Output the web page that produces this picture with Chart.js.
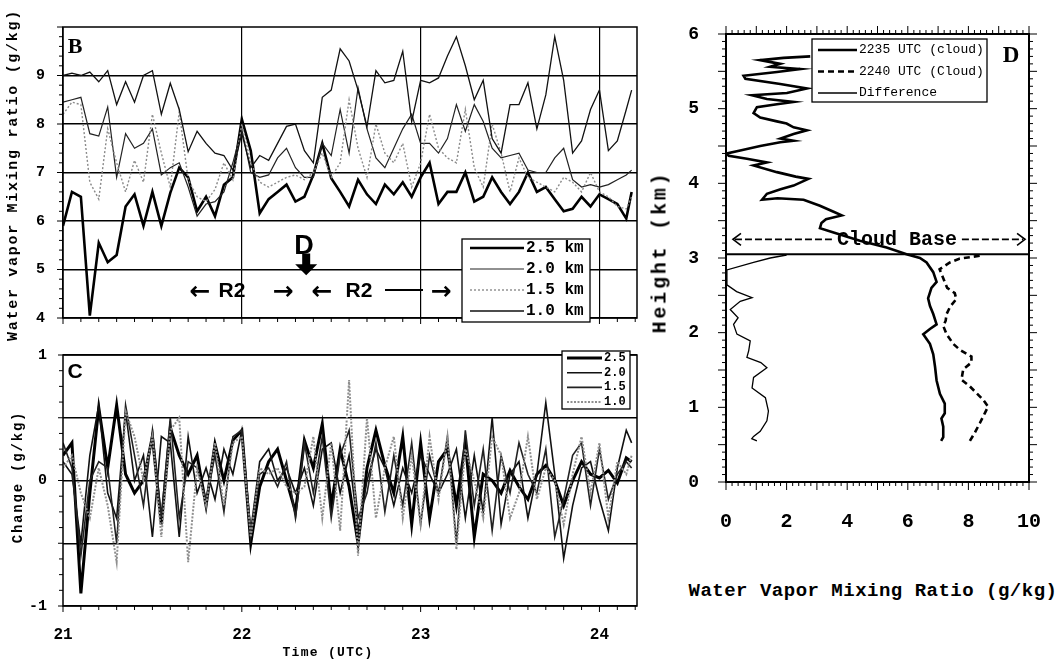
<!DOCTYPE html>
<html>
<head>
<meta charset="utf-8">
<script src="https://cdn.jsdelivr.net/npm/chart.js@4.4.1/dist/chart.umd.min.js"></script>
<style>
  body { margin: 0; background: #fff; }
  #page { position: relative; width: 1062px; height: 660px; overflow: hidden; background: #fff; }
  canvas { position: absolute; }
  .lbl { position: absolute; transform: translate(-50%, -50%); white-space: nowrap; font-family: 'Liberation Mono', monospace; font-weight: bold; color: #000; }
  .rot { transform: translate(-50%, -50%) rotate(-90deg); }
  .sans { font-family: 'Liberation Sans', 'DejaVu Sans', sans-serif; }
  .arw { font-family: 'DejaVu Sans', sans-serif; }
  .serif { font-family: 'Liberation Serif', serif; }
</style>
</head>
<body>
<div id="page">
  <canvas id="chartB" width="660" height="345" style="left:0;top:0"></canvas>
  <canvas id="chartC" width="660" height="330" style="left:0;top:330px"></canvas>
  <canvas id="chartD" width="402" height="540" style="left:660px;top:0"></canvas>

  <div class="lbl rot" style="left:13px;top:175px;font-size:15px;letter-spacing:1.7px">Water vapor Mixing ratio (g/kg)</div>
  <div class="lbl rot" style="left:18px;top:477px;font-size:14px;letter-spacing:1.8px">Change (g/kg)</div>
  <div class="lbl" style="left:328px;top:652px;font-size:13px;letter-spacing:1.3px">Time (UTC)</div>
  <div class="lbl rot" style="left:660px;top:252px;font-size:20px;letter-spacing:2.8px">Height (km)</div>
  <div class="lbl" style="left:873px;top:591px;font-size:19px;letter-spacing:0.5px">Water Vapor Mixing Ratio (g/kg)</div>

  <div class="lbl serif" style="left:75px;top:46px;font-size:22px">B</div>
  <div class="lbl sans" style="left:75px;top:371px;font-size:21px">C</div>
  <div class="lbl serif" style="left:1011px;top:55px;font-size:23px">D</div>

  <div class="lbl sans" style="left:304px;top:245px;font-size:27px">D</div>
  <div class="lbl arw" style="left:200px;top:290px;font-size:25px">←</div>
  <div class="lbl sans" style="left:232px;top:290px;font-size:21px">R2</div>
  <div class="lbl arw" style="left:283px;top:290px;font-size:25px">→</div>
  <div class="lbl arw" style="left:322px;top:290px;font-size:25px">←</div>
  <div class="lbl sans" style="left:359px;top:290px;font-size:21px">R2</div>
  <div style="position:absolute;left:385px;top:289px;width:38px;border-top:2px solid #000"></div>
  <div class="lbl arw" style="left:441px;top:290px;font-size:25px">→</div>
</div>

<script>
// time axis (UTC hours) shared by panels B and C
const times = [21.00, 21.05, 21.10, 21.15, 21.20, 21.25, 21.30, 21.35, 21.40, 21.45,
  21.50, 21.55, 21.60, 21.65, 21.70, 21.75, 21.80, 21.85, 21.90, 21.95,
  22.00, 22.05, 22.10, 22.15, 22.20, 22.25, 22.30, 22.35, 22.40, 22.45,
  22.50, 22.55, 22.60, 22.65, 22.70, 22.75, 22.80, 22.85, 22.90, 22.95,
  23.00, 23.05, 23.10, 23.15, 23.20, 23.25, 23.30, 23.35, 23.40, 23.45,
  23.50, 23.55, 23.60, 23.65, 23.70, 23.75, 23.80, 23.85, 23.90, 23.95,
  24.00, 24.05, 24.10, 24.15, 24.18];

// panel B: water vapor mixing ratio (g/kg)
const b25 = [5.9, 6.6, 6.5, 4.05, 5.55, 5.15, 5.3, 6.3, 6.55, 5.9, 6.6, 5.9, 6.58, 7.1, 6.9, 6.2, 6.5, 6.1, 6.75, 6.9,
  8.1, 7.45, 6.16, 6.45, 6.6, 6.75, 6.4, 6.5, 6.95, 7.6, 6.88, 6.6, 6.3, 6.85, 6.55, 6.35, 6.75, 6.55, 6.8, 6.5,
  6.9, 7.2, 6.35, 6.6, 6.6, 7.0, 6.4, 6.5, 6.9, 6.6, 6.35, 6.6, 7.0, 6.6, 6.7, 6.45, 6.2, 6.25, 6.5, 6.3,
  6.55, 6.45, 6.35, 6.05, 6.6];
const b20 = [8.45, 8.5, 8.55, 7.8, 7.75, 8.35, 6.9, 7.8, 7.5, 7.6, 7.9, 6.95, 7.1, 7.2, 6.7, 6.1, 6.35, 6.4, 6.6, 7.2,
  7.9, 7.0, 6.9, 6.95, 7.3, 7.5, 7.1, 6.9, 6.9, 7.6, 7.35, 8.3, 7.4, 8.75, 7.9, 7.3, 7.1, 7.5, 7.9, 8.2,
  7.6, 7.6, 7.4, 7.7, 8.4, 7.85, 8.4, 8.05, 7.5, 7.3, 7.35, 7.4, 7.05, 7.0, 7.0, 7.3, 7.5, 6.85, 6.7, 6.75,
  6.7, 6.75, 6.85, 6.95, 7.05];
const b15 = [8.2, 8.45, 8.4, 6.8, 6.45, 7.9, 7.2, 6.6, 7.25, 6.8, 8.2, 7.4, 6.7, 8.25, 6.85, 6.5, 6.4, 6.65, 7.2, 6.85,
  8.0, 7.2, 6.8, 6.7, 6.8, 6.9, 6.95, 6.85, 7.0, 7.4, 6.9, 7.2, 8.5, 7.5, 6.9, 8.0, 7.4, 7.2, 7.6, 6.7,
  7.2, 8.2, 7.5, 7.3, 7.2, 8.3, 7.1, 6.7, 8.0, 7.4, 6.6, 7.3, 6.9, 6.8, 6.7, 6.6, 6.9, 6.8, 6.6, 7.0,
  6.6, 6.5, 6.3, 6.25, 6.5];
const b10 = [9.0, 9.05, 9.0, 9.07, 8.87, 9.1, 8.4, 8.87, 8.45, 9.0, 9.1, 8.2, 8.84, 8.3, 7.43, 7.85, 7.6, 7.4, 7.35, 7.05,
  7.8, 7.1, 7.35, 7.25, 7.6, 7.95, 8.0, 7.45, 7.2, 8.55, 8.7, 9.55, 9.3, 8.7, 7.95, 9.1, 8.85, 8.9, 9.5, 8.05,
  8.9, 8.85, 8.95, 9.4, 9.8, 9.2, 8.5, 8.9, 7.7, 7.4, 8.4, 8.4, 8.85, 7.9, 8.6, 9.8, 8.9, 7.4, 7.65, 8.3,
  8.7, 7.45, 7.65, 8.3, 8.7];

// panel C: change (g/kg)
const c25 = [0.2, 0.3, -0.9, -0.1, 0.58, 0.1, 0.6, 0.05, -0.1, 0.0, 0.35, -0.35, 0.42, 0.2, 0.05, 0.2, -0.2, 0.29, 0.0, 0.32,
  0.4, -0.5, -0.05, 0.15, 0.25, 0.0, -0.25, 0.32, 0.1, 0.45, -0.2, 0.25, -0.05, -0.5, 0.1, 0.4, 0.12, -0.1, 0.35, -0.35,
  0.3, -0.3, 0.15, 0.25, -0.2, 0.3, -0.45, 0.05, 0.0, -0.1, 0.08, -0.05, -0.15, 0.05, 0.12, 0.0, -0.2, 0.0, 0.15, 0.05,
  0.02, 0.08, -0.02, 0.18, 0.15];
const c20 = [0.15, 0.05, -0.5, 0.2, 0.6, -0.1, -0.3, 0.55, 0.0, 0.2, -0.45, 0.35, 0.3, -0.45, 0.35, -0.1, 0.1, -0.15, 0.25, 0.05,
  0.4, -0.4, 0.15, 0.25, 0.0, 0.1, -0.1, 0.1, -0.2, 0.25, 0.3, -0.1, 0.2, -0.4, 0.0, 0.25, 0.1, -0.2, 0.1, -0.1,
  0.2, 0.05, -0.1, 0.05, 0.25, -0.3, 0.2, -0.25, 0.5, -0.35, 0.05, 0.15, -0.3, 0.05, 0.62, 0.05, -0.62, -0.2, 0.1, 0.15,
  -0.15, -0.4, 0.1, 0.4, 0.3];
const c15 = [0.3, 0.1, -0.6, 0.0, 0.15, 0.1, -0.5, 0.6, 0.2, -0.2, 0.4, -0.3, 0.5, -0.3, 0.15, 0.1, -0.15, 0.2, -0.25, 0.35,
  0.4, -0.45, 0.05, 0.1, -0.05, 0.15, -0.3, 0.3, -0.1, 0.35, -0.3, 0.2, 0.4, -0.3, -0.1, 0.3, -0.25, 0.2, -0.2, 0.3,
  -0.35, 0.2, -0.1, 0.35, -0.5, 0.4, -0.2, 0.25, -0.4, 0.2, -0.1, 0.3, 0.05, -0.1, 0.25, -0.45, -0.15, 0.2, 0.3, -0.2,
  0.25, -0.15, 0.05, 0.15, 0.1];
const c10 = [0.1, 0.2, -0.1, -0.3, 0.1, -0.2, -0.65, 0.55, 0.35, 0.0, 0.35, -0.45, 0.4, 0.5, -0.65, 0.1, -0.2, 0.3, -0.2, 0.3,
  0.35, -0.45, 0.1, 0.05, 0.1, -0.05, -0.1, -0.05, 0.35, -0.3, 0.3, -0.4, 0.8, -0.6, 0.5, -0.3, 0.1, 0.35, -0.3, 0.2,
  -0.35, 0.35, -0.15, 0.35, -0.55, 0.25, 0.0, -0.3, 0.35, 0.2, -0.3, -0.1, 0.35, -0.15, 0.1, 0.0, -0.35, 0.05, 0.35, -0.1,
  0.3, -0.3, 0.15, 0.05, 0.2];

// panel D: profiles (height km, mixing ratio g/kg)
const d2235H = [0.55, 0.6, 0.74, 0.85, 0.92, 1.05, 1.18, 1.36, 1.54, 1.71, 1.85, 1.98, 2.05, 2.11, 2.25, 2.36, 2.46, 2.6, 2.68, 2.81,
  2.94, 3.0, 3.05, 3.14, 3.23, 3.34, 3.4, 3.47, 3.52, 3.57, 3.62, 3.7, 3.78, 3.8, 3.78, 3.86, 3.92, 3.97, 4.06, 4.09,
  4.15, 4.24, 4.28, 4.33, 4.37, 4.4, 4.44, 4.5, 4.55, 4.57, 4.6, 4.66, 4.71, 4.75, 4.8, 4.83, 4.88, 4.94, 5.02, 5.06,
  5.09, 5.13, 5.18, 5.21, 5.27, 5.33, 5.4, 5.44, 5.49, 5.53, 5.56, 5.6, 5.65, 5.68, 5.7];
const d2235 = [7.1, 7.17, 7.17, 7.11, 7.22, 7.22, 7.06, 6.95, 6.9, 6.84, 6.73, 6.51, 6.73, 6.95, 6.84, 6.73, 6.67, 6.78, 6.95, 6.84,
  6.62, 6.4, 5.96, 5.3, 4.42, 3.55, 3.1, 3.15, 3.3, 3.82, 3.55, 3.1, 2.56, 1.7, 1.19, 1.35, 1.8, 2.23, 2.72, 2.3,
  1.68, 0.91, 1.35, 0.69, 0.09, 0.03, 0.47, 1.13, 1.79, 2.23, 1.8, 2.23, 2.67, 2.23, 2.0, 1.68, 1.13, 0.91, 1.02, 1.68,
  2.23, 1.35, 0.86, 2.01, 2.67, 1.79, 0.64, 0.58, 1.68, 2.45, 1.46, 1.79, 1.13, 1.9, 2.78];
const d2240H = [0.55, 0.66, 0.79, 0.92, 1.01, 1.1, 1.19, 1.28, 1.37, 1.51, 1.6, 1.68, 1.77, 1.85, 1.98, 2.09, 2.16, 2.25, 2.35, 2.45,
  2.53, 2.6, 2.7, 2.85, 2.94, 2.99, 3.03];
const d2240 = [8.05, 8.21, 8.38, 8.54, 8.65, 8.49, 8.27, 8.05, 7.77, 7.83, 8.1, 8.1, 7.72, 7.5, 7.28, 7.17, 7.25, 7.28, 7.4, 7.6,
  7.55, 7.3, 7.2, 7.05, 7.39, 7.7, 8.38];
const dDiffH = [0.55, 0.58, 0.61, 0.68, 0.82, 0.95, 1.13, 1.26, 1.4, 1.53, 1.6, 1.67, 1.76, 1.89, 1.98, 2.11, 2.2, 2.31, 2.42, 2.47,
  2.55, 2.64, 2.84, 2.94, 3.0, 3.04];
const dDiff = [1.02, 0.85, 0.91, 1.13, 1.35, 1.4, 1.3, 0.86, 0.91, 1.35, 1.15, 0.69, 0.75, 0.8, 0.36, 0.25, 0.4, 0.14, 0.47, 0.86,
  0.35, 0.03, 0.03, 0.91, 1.46, 2.0];
const cloudBaseKm = 3.05;

// tick labels
const hourTicks = [21, 22, 23, 24];
const bTicks = [4, 5, 6, 7, 8, 9];
const cTicks = [-1, -0.5, 0, 0.5, 1];
const dXTicks = [0, 2, 4, 6, 8, 10];
const dYTicks = [0, 1, 2, 3, 4, 5, 6];

Chart.defaults.font.family = 'Liberation Mono';
Chart.defaults.color = '#000';

function series(label, values, style) {
  return Object.assign({
    label: label,
    data: times.map((t, i) => ({ x: t, y: values[i] })),
    pointRadius: 0, tension: 0, fill: false
  }, style);
}
function profile(label, heights, values, style) {
  return Object.assign({
    label: label,
    data: heights.map((h, i) => ({ x: values[i], y: h })),
    showLine: true, pointRadius: 0, tension: 0, fill: false
  }, style);
}
function fixedTicks(list) {
  return scale => { scale.ticks = list.map(v => ({ value: v })); };
}

// frame + outward minor/major tick marks
const edgeTicks = {
  id: 'edgeTicks',
  afterDraw(chart, args, opts) {
    const { ctx, chartArea: a, scales } = chart;
    ctx.save();
    ctx.strokeStyle = '#000';
    ctx.lineWidth = opts.frame || 1.5;
    ctx.strokeRect(a.left, a.top, a.right - a.left, a.bottom - a.top);
    ctx.lineWidth = 1;
    (opts.marks || []).forEach(m => {
      const sc = scales[m.axis];
      for (let k = 0; ; k++) {
        const v = m.from + k * m.step;
        if (v > m.to + 1e-9) break;
        const r = v / m.major;
        const len = Math.abs(r - Math.round(r)) < 1e-6 ? m.majorLen : m.len;
        const p = sc.getPixelForValue(v);
        ctx.beginPath();
        m.sides.forEach(side => {
          if (side === 'bottom') { ctx.moveTo(p, a.bottom); ctx.lineTo(p, a.bottom + len); }
          if (side === 'top') { ctx.moveTo(p, a.top); ctx.lineTo(p, a.top - len); }
          if (side === 'left') { ctx.moveTo(a.left, p); ctx.lineTo(a.left - len, p); }
          if (side === 'right') { ctx.moveTo(a.right, p); ctx.lineTo(a.right + len, p); }
        });
        ctx.stroke();
      }
    });
    ctx.restore();
  }
};

// boxed legend drawn from the datasets' own styles
const boxLegend = {
  id: 'boxLegend',
  afterDraw(chart, args, o) {
    if (!o || !o.rows) return;
    const ctx = chart.ctx;
    ctx.save();
    ctx.fillStyle = '#fff';
    ctx.fillRect(o.x, o.y, o.w, o.h);
    ctx.strokeStyle = '#000';
    ctx.lineWidth = 1.3;
    ctx.strokeRect(o.x, o.y, o.w, o.h);
    ctx.font = o.font;
    ctx.textBaseline = 'middle';
    ctx.textAlign = 'left';
    o.rows.forEach((label, i) => {
      const ds = chart.data.datasets.find(d => d.label === label);
      const y = o.top + i * o.step;
      ctx.strokeStyle = ds.borderColor;
      ctx.lineWidth = ds.borderWidth;
      ctx.setLineDash(ds.borderDash || []);
      ctx.beginPath();
      ctx.moveTo(o.x1, y);
      ctx.lineTo(o.x2, y);
      ctx.stroke();
      ctx.setLineDash([]);
      ctx.fillStyle = '#000';
      ctx.fillText(label, o.x2 + 2, y);
    });
    ctx.restore();
  }
};

// the "D" time marker arrow in panel B
const markArrow = {
  id: 'markArrow',
  afterDatasetsDraw(chart, args, o) {
    if (!o || o.t === undefined) return;
    const { ctx, scales } = chart;
    const x = scales.x.getPixelForValue(o.t);
    const y1 = scales.y.getPixelForValue(o.from);
    const y2 = scales.y.getPixelForValue(o.to);
    ctx.save();
    ctx.fillStyle = '#000';
    ctx.fillRect(x - 4, y1, 8, y2 - y1 - 10);
    ctx.beginPath();
    ctx.moveTo(x - 11, y2 - 11);
    ctx.lineTo(x + 11, y2 - 11);
    ctx.lineTo(x, y2);
    ctx.closePath();
    ctx.fill();
    ctx.restore();
  }
};

// "<---- Cloud Base ---->" note in panel D
const cloudNote = {
  id: 'cloudNote',
  afterDatasetsDraw(chart, args, o) {
    if (!o || !o.text) return;
    const { ctx, scales } = chart;
    const y = scales.y.getPixelForValue(o.y);
    const x1 = scales.x.getPixelForValue(o.x1);
    const x2 = scales.x.getPixelForValue(o.x2);
    const tx = scales.x.getPixelForValue(o.tx);
    ctx.save();
    ctx.font = 'bold 20px "Liberation Mono"';
    const tw = ctx.measureText(o.text).width;
    ctx.strokeStyle = '#000';
    ctx.lineWidth = 1.6;
    ctx.setLineDash([7, 3]);
    ctx.beginPath();
    ctx.moveTo(x1 + 2, y); ctx.lineTo(tx - tw / 2 - 5, y);
    ctx.moveTo(tx + tw / 2 + 5, y); ctx.lineTo(x2 - 2, y);
    ctx.stroke();
    ctx.setLineDash([]);
    ctx.beginPath();
    ctx.moveTo(x1 + 8, y - 6); ctx.lineTo(x1, y); ctx.lineTo(x1 + 8, y + 6);
    ctx.moveTo(x2 - 8, y - 6); ctx.lineTo(x2, y); ctx.lineTo(x2 - 8, y + 6);
    ctx.stroke();
    ctx.fillStyle = '#000';
    ctx.textAlign = 'center';
    ctx.textBaseline = 'middle';
    ctx.fillText(o.text, tx, y + 1);
    ctx.restore();
  }
};

const tickFont = size => ({ family: 'Liberation Mono', weight: 'bold', size: size });

// ---- panel B ----
new Chart(document.getElementById('chartB'), {
  type: 'line',
  data: {
    datasets: [
      series('1.0 km', b10, { borderColor: '#111', borderWidth: 1.3 }),
      series('1.5 km', b15, { borderColor: '#8a8a8a', borderWidth: 1.4, borderDash: [2, 2] }),
      series('2.0 km', b20, { borderColor: '#222', borderWidth: 1.2 }),
      series('2.5 km', b25, { borderColor: '#000', borderWidth: 2.6 })
    ]
  },
  options: {
    responsive: false, animation: false, devicePixelRatio: 1,
    layout: { padding: { left: 0, top: 22, right: 23, bottom: 0 } },
    plugins: {
      legend: { display: false }, tooltip: { enabled: false },
      edgeTicks: { frame: 1.5, marks: [
        { axis: 'x', from: 21, to: 24.2, step: 0.1, major: 1, len: 4, majorLen: 6, sides: ['bottom'] },
        { axis: 'y', from: 4, to: 10, step: 0.2, major: 1, len: 4, majorLen: 6, sides: ['left'] }
      ] },
      boxLegend: { x: 462, y: 239, w: 128, h: 83, x1: 470, x2: 524, top: 248, step: 21,
        font: 'bold 16px "Liberation Mono"', rows: ['2.5 km', '2.0 km', '1.5 km', '1.0 km'] },
      markArrow: { t: 22.36, from: 5.33, to: 4.88 }
    },
    scales: {
      x: {
        type: 'linear', min: 21, max: 24.21,
        afterBuildTicks: fixedTicks(hourTicks),
        afterFit: s => { s.height = 17; },
        ticks: { display: false },
        grid: { color: '#000', lineWidth: 1.2, drawTicks: false },
        border: { display: false }
      },
      y: {
        min: 4, max: 10,
        afterBuildTicks: fixedTicks(bTicks),
        afterFit: s => { s.width = 63; },
        ticks: { font: tickFont(15), color: '#000', padding: 18 },
        grid: { color: '#000', lineWidth: 1.5, drawTicks: false },
        border: { display: false }
      }
    }
  },
  plugins: [edgeTicks, boxLegend, markArrow]
});

// ---- panel C ----
new Chart(document.getElementById('chartC'), {
  type: 'line',
  data: {
    datasets: [
      series('1.0', c10, { borderColor: '#8f8f8f', borderWidth: 2, borderDash: [2, 1.5] }),
      series('1.5', c15, { borderColor: '#222', borderWidth: 1.6 }),
      series('2.0', c20, { borderColor: '#111', borderWidth: 1.6 }),
      series('2.5', c25, { borderColor: '#000', borderWidth: 3 })
    ]
  },
  options: {
    responsive: false, animation: false, devicePixelRatio: 1,
    layout: { padding: { left: 0, top: 22, right: 23, bottom: 0 } },
    plugins: {
      legend: { display: false }, tooltip: { enabled: false },
      edgeTicks: { frame: 1.5, marks: [
        { axis: 'x', from: 21, to: 24.2, step: 0.1, major: 1, len: 4, majorLen: 6, sides: ['bottom'] },
        { axis: 'y', from: -1, to: 1, step: 0.125, major: 0.5, len: 4, majorLen: 5, sides: ['left'] }
      ] },
      boxLegend: { x: 562, y: 21, w: 68, h: 58, x1: 567, x2: 602, top: 28, step: 14.7,
        font: 'bold 12px "Liberation Mono"', rows: ['2.5', '2.0', '1.5', '1.0'] }
    },
    scales: {
      x: {
        type: 'linear', min: 21, max: 24.21,
        afterBuildTicks: fixedTicks(hourTicks),
        afterFit: s => { s.height = 54; },
        ticks: { font: tickFont(16), color: '#000', padding: 11 },
        grid: { display: false },
        border: { display: false }
      },
      y: {
        min: -1, max: 1,
        afterBuildTicks: fixedTicks(cTicks),
        afterFit: s => { s.width = 63; },
        ticks: { font: tickFont(15), color: '#000', padding: 16,
          callback: v => (v === 0 || Math.abs(v) === 1) ? String(v) : '' },
        grid: { color: '#000', lineWidth: 1.5, drawTicks: false },
        border: { display: false }
      }
    }
  },
  plugins: [edgeTicks, boxLegend]
});

// ---- panel D ----
new Chart(document.getElementById('chartD'), {
  type: 'scatter',
  data: {
    datasets: [
      profile('Cloud base', [cloudBaseKm, cloudBaseKm], [0, 10], { borderColor: '#000', borderWidth: 2 }),
      profile('Difference', dDiffH, dDiff, { borderColor: '#000', borderWidth: 1.3 }),
      profile('2240 UTC (Cloud)', d2240H, d2240, { borderColor: '#000', borderWidth: 2.6, borderDash: [6, 4] }),
      profile('2235 UTC (cloud)', d2235H, d2235, { borderColor: '#000', borderWidth: 2.6 })
    ]
  },
  options: {
    responsive: false, animation: false, devicePixelRatio: 1,
    layout: { padding: { left: 0, top: 34, right: 33, bottom: 0 } },
    plugins: {
      legend: { display: false }, tooltip: { enabled: false },
      edgeTicks: { frame: 2, marks: [
        { axis: 'x', from: 0, to: 10, step: 0.2, major: 1, len: 4, majorLen: 8, sides: ['bottom', 'top'] },
        { axis: 'y', from: 0, to: 6, step: 0.1, major: 0.5, len: 4, majorLen: 8, sides: ['left', 'right'] }
      ] },
      boxLegend: { x: 152, y: 39, w: 175, h: 63, x1: 158, x2: 197, top: 50, step: 21.5,
        font: '13px "Liberation Mono"', rows: ['2235 UTC (cloud)', '2240 UTC (Cloud)', 'Difference'] },
      cloudNote: { text: 'Cloud Base', y: 3.25, x1: 0.23, x2: 9.87, tx: 5.64 }
    },
    scales: {
      x: {
        type: 'linear', min: 0, max: 10,
        afterBuildTicks: fixedTicks(dXTicks),
        afterFit: s => { s.height = 58; },
        ticks: { font: tickFont(20), color: '#000', padding: 20 },
        grid: { display: false },
        border: { display: false }
      },
      y: {
        min: 0, max: 6,
        afterBuildTicks: fixedTicks(dYTicks),
        afterFit: s => { s.width = 66; },
        ticks: { font: tickFont(18), color: '#000', padding: 19 },
        grid: { display: false },
        border: { display: false }
      }
    }
  },
  plugins: [edgeTicks, boxLegend, cloudNote]
});
</script>
</body>
</html>
